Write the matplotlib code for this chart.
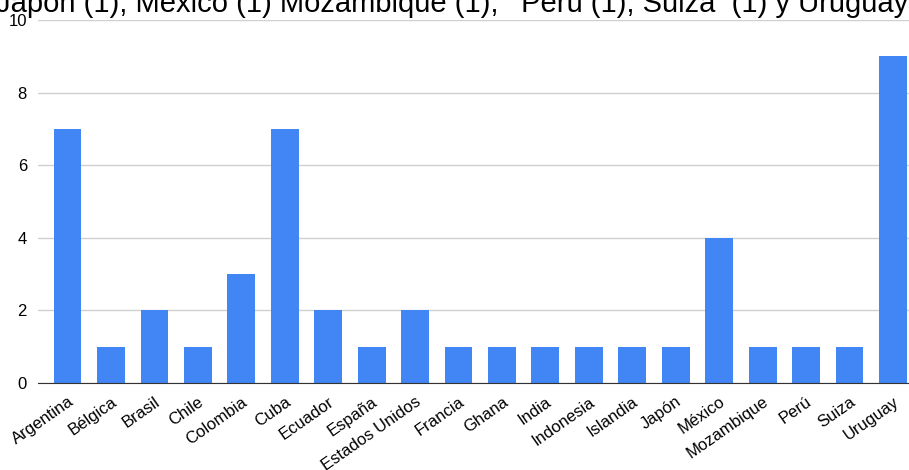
import matplotlib.pyplot as plt

plt.rcParams['font.family'] = ['Liberation Sans', 'DejaVu Sans']

paises = ['Argentina', 'Bélgica', 'Brasil', 'Chile', 'Colombia', 'Cuba', 'Ecuador',
          'España', 'Estados Unidos', 'Francia', 'Ghana', 'India', 'Indonesia',
          'Islandia', 'Japón', 'México', 'Mozambique', 'Perú', 'Suiza', 'Uruguay']
cantidad = [7, 1, 2, 1, 3, 7, 2, 1, 2, 1, 1, 1, 1, 1, 1, 4, 1, 1, 1, 9]
yticks = [0, 2, 4, 6, 8, 10]

titulo = 'Japón (1), México (1) Mozambique (1),  ‘Perú (1), Suiza  (1) y Uruguay (9)'

fig = plt.figure(figsize=(9.09, 4.70), dpi=100)
ax = fig.add_axes([38/909, 87/470, 871/909, 363/470])

x = range(len(paises))
ax.bar(x, cantidad, width=0.64, color='#4285f4', zorder=2)

ax.set_xlim(-0.68, 19.37)
ax.set_ylim(0, 10)
ax.set_yticks(yticks)
ax.set_yticklabels([str(v) for v in yticks], fontsize=12)
ax.set_xticks(list(x))
ax.set_xticklabels(paises, rotation=35, ha='right', va='top',
                   rotation_mode='anchor', fontsize=12)
ax.tick_params(length=0, pad=8)
ax.tick_params(axis='x', pad=8)
ax.grid(axis='y', color='#d0d0d0', linewidth=1, zorder=0)
for s in ['top', 'right', 'left']:
    ax.spines[s].set_visible(False)
ax.spines['bottom'].set_color('#333333')
ax.spines['bottom'].set_zorder(3)

fig.text(-4/909, 1 - 12/470, titulo, fontsize=21, ha='left', va='baseline')

fig.savefig('out.png', dpi=100)
